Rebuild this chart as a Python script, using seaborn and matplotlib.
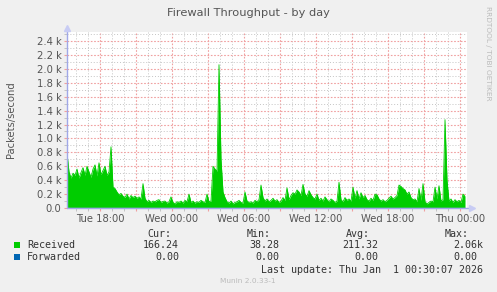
import numpy as np
import pandas as pd
import matplotlib
matplotlib.use("Agg")
import matplotlib.pyplot as plt
from matplotlib.ticker import MultipleLocator, FuncFormatter
from matplotlib.patches import Rectangle
import seaborn as sns

# ---------------- data ----------------
title = "Firewall Throughput - by day"
y_label = "Packets/second"
start_hour = -8.75          # hours relative to Wed 00:00 (Tue 15:15)
step_hours = 1.0 / 6.0      # 10-minute samples
received = [
    790, 520, 430, 500, 470, 560, 430, 510, 580, 470,
    600, 520, 440, 560, 620, 460, 650, 480, 540, 600,
    470, 520, 880, 300, 280, 230, 190, 210, 170, 150,
    200, 130, 180, 150, 170, 140, 160, 130, 350, 140,
    90, 110, 80, 100, 90, 110, 120, 80, 95, 100,
    70, 90, 160, 80, 60, 90, 80, 100, 70, 110,
    90, 200, 80, 100, 70, 90, 80, 110, 90, 80,
    200, 90, 100, 600, 560, 530, 2060, 700, 230, 150,
    90, 70, 100, 60, 80, 90, 110, 80, 70, 230,
    100, 80, 90, 70, 110, 90, 120, 330, 150, 100,
    130, 90, 110, 140, 100, 120, 80, 100, 150, 110,
    290, 120, 180, 220, 200, 260, 230, 180, 340, 200,
    170, 250, 190, 150, 130, 200, 110, 140, 100, 160,
    120, 90, 130, 110, 80, 100, 370, 120, 90, 150,
    110, 130, 100, 300, 140, 250, 130, 220, 150, 180,
    120, 100, 140, 110, 200, 190, 130, 100, 120, 90,
    110, 140, 170, 130, 150, 180, 330, 310, 280, 260,
    200, 230, 150, 120, 130, 90, 280, 110, 350, 90,
    60, 80, 100, 90, 300, 130, 320, 100, 120, 1270,
    400, 100, 130, 80, 120, 90, 110, 80, 200, 166,
]
forwarded = [0.0] * len(received)
x_tick_hours = [-6, 0, 6, 12, 18, 24]
x_tick_labels = ["Tue 18:00", "Wed 00:00", "Wed 06:00", "Wed 12:00", "Wed 18:00", "Thu 00:00"]
y_ticks = [0, 200, 400, 600, 800, 1000, 1200, 1400, 1600, 1800, 2000, 2200, 2400]
series_names = ["Received", "Forwarded"]
series_colors = ["#00CC00", "#0066B3"]
stat_headers = ["Cur:", "Min:", "Avg:", "Max:"]
stats_received = ["166.24", "38.28", "211.32", "2.06k"]
stats_forwarded = ["0.00", "0.00", "0.00", "0.00"]
last_update = "Last update: Thu Jan  1 00:30:07 2026"
footer = "Munin 2.0.33-1"
side_text = "RRDTOOL / TOBI OETIKER"

hours = start_hour + np.arange(len(received)) * step_hours
df = pd.DataFrame({"hour": hours, "received": received, "forwarded": forwarded})

# ---------------- figure ----------------
W, H = 497, 292
sns.set_theme(style="white")
plt.rcParams["font.family"] = ["DejaVu Sans"]

fig = plt.figure(figsize=(W / 100, H / 100), dpi=100, facecolor="#F0F0F0")
ax = fig.add_axes([67 / W, (H - 208) / H, 400 / W, 176 / H])
ax.set_facecolor("white")

x_left = start_hour
x_right = start_hour + 400 / 12.0
ax.set_xlim(x_left, x_right)
ax.set_ylim(0, 2530)

ax.fill_between(df["hour"], df["received"], color=series_colors[0], lw=0, zorder=3)
sns.lineplot(data=df, x="hour", y="received", ax=ax, color=series_colors[0], lw=0.6,
             zorder=3, legend=False)
sns.lineplot(data=df, x="hour", y="forwarded", ax=ax, color="#7F9FD8", lw=1.0,
             zorder=4, legend=False)

# grid
ax.xaxis.set_major_locator(MultipleLocator(3))
ax.xaxis.set_minor_locator(MultipleLocator(1))
ax.yaxis.set_major_locator(MultipleLocator(200))
ax.yaxis.set_minor_locator(MultipleLocator(100))
ax.set_axisbelow(True)
ax.grid(True, which="minor", color="#C4C4C4", ls=(0, (1, 2)), lw=0.7)
ax.grid(True, which="major", color="#F0A0A0", ls=(0, (1.5, 1.5)), lw=0.8)

label_map = dict(zip(x_tick_hours, x_tick_labels))
ax.xaxis.set_major_formatter(FuncFormatter(lambda v, p: label_map.get(int(round(v)), "") if abs(v - round(v)) < 1e-6 else ""))
ax.yaxis.set_major_formatter(FuncFormatter(lambda v, p: "0.0" if v == 0 else f"{v/1000:.1f} k"))
ax.set_yticks(y_ticks)

ax.tick_params(axis="both", which="major", length=2, width=0.8, color="#F0A0A0",
               labelsize=7.2, labelcolor="#555555", pad=2, direction="out")
ax.tick_params(axis="both", which="minor", length=2, width=0.6, color="#BBBBBB", direction="out")
ax.tick_params(axis="y", which="both", left=True)
ax.tick_params(axis="x", which="both", bottom=True)
ax.set_xlabel("")
ax.set_ylabel("")
for s in ax.spines.values():
    s.set_visible(False)

# axis lines with arrows
axis_col = "#A0A8E8"
ax.plot([x_left, x_left], [0, 2560], color=axis_col, lw=1, clip_on=False, zorder=5)
ax.plot([x_left], [2590], marker="^", color="#C8CCF4", ms=4, clip_on=False, zorder=5)
ax.plot([x_left, x_right + 0.2], [0, 0], color=axis_col, lw=1, clip_on=False, zorder=5)
ax.plot([x_right + 0.45], [0], marker=">", color="#C8CCF4", ms=4, clip_on=False, zorder=5)

def fx(x):
    return x / W

def fy(y):
    return 1 - y / H

fig.text(fx(248), fy(13), title, ha="center", va="center", fontsize=8.2, color="#555555")
fig.text(fx(11), fy(120), y_label, ha="center", va="center", rotation=90, fontsize=7.2, color="#555555")
fig.text(fx(488), fy(6), side_text, ha="center", va="top", rotation=270, fontsize=5.3, color="#BBBBBB")

mono = "DejaVu Sans Mono"
fs = 7.2
txtcol = "#333333"
hdr_right = [171, 271, 370, 469]
val_right = [179, 279, 378, 483]
for h, xr in zip(stat_headers, hdr_right):
    fig.text(fx(xr), fy(234), h, ha="right", va="center", family=mono, fontsize=fs, color=txtcol)

rows_y = [245, 257]
for name, col, stats, yy in zip(series_names, series_colors, [stats_received, stats_forwarded], rows_y):
    fig.add_artist(Rectangle((fx(14), fy(yy + 3)), 6 / W, 6 / H, transform=fig.transFigure,
                             facecolor=col, edgecolor="none"))
    fig.text(fx(27), fy(yy), name, ha="left", va="center", family=mono, fontsize=fs, color=txtcol)
    for v, xr in zip(stats, val_right):
        if not v.endswith("k") and xr == val_right[-1]:
            xr = xr - 6
        fig.text(fx(xr), fy(yy), v, ha="right", va="center", family=mono, fontsize=fs, color=txtcol)

fig.text(fx(483), fy(270), last_update, ha="right", va="center", family=mono, fontsize=fs, color=txtcol)
fig.text(fx(248), fy(281), footer, ha="center", va="center", fontsize=5.3, color="#BBBBBB")

fig.savefig("out.png", dpi=100, facecolor=fig.get_facecolor())
